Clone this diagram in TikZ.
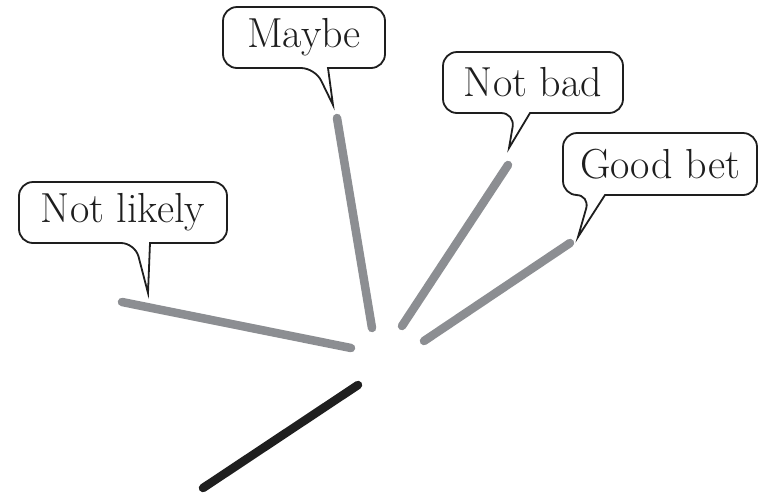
\documentclass[tikz,border=0pt]{standalone}
\usetikzlibrary{calc}
\definecolor{raygray}{RGB}{140,142,146}
\definecolor{inkdark}{RGB}{30,30,30}
\tikzset{
  x=1pt, y=-1pt,
  bubtext/.style={draw=none, inner sep=0pt, text=inkdark, font=\fontsize{42}{46}\selectfont},
  bubline/.style={draw=inkdark, line width=1.8pt, fill=white, line join=miter},
  ray/.style={draw=raygray, line width=8.5pt, line cap=round},
  darkray/.style={draw=black!88, line width=8.5pt, line cap=round}
}
\begin{document}
\begin{tikzpicture}
\useasboundingbox (0,0) rectangle (760,496);
% bubble frames (anchors)
\coordinate (nlTL) at (19,182);  \coordinate (nlBR) at (227,243);
\coordinate (mbTL) at (223,7);   \coordinate (mbBR) at (385,68);
\coordinate (nbTL) at (443,52);  \coordinate (nbBR) at (623,113);
\coordinate (gbTL) at (563,133); \coordinate (gbBR) at (757,195);
% tails
\coordinate (nlTip) at (148,293);
\coordinate (mbTip) at (333,105);
\coordinate (nbTip) at (509,148);
\coordinate (gbTip) at (578,237);
% bubbles
\draw[bubline] (150,243) [rounded corners=14] -- (nlBR) -- (nlBR |- nlTL) -- (nlTL) -- (nlTL |- nlBR) -- (135,243) [sharp corners] -- (nlTip) -- cycle;
\draw[bubline] (328,68) [rounded corners=14] -- (mbBR) -- (mbBR |- mbTL) -- (mbTL) -- (mbTL |- mbBR) -- (315,68) [sharp corners] -- (mbTip) -- cycle;
\draw[bubline] (530,113) [rounded corners=14] -- (nbBR) -- (nbBR |- nbTL) -- (nbTL) -- (nbTL |- nbBR) -- (515,113) [sharp corners] -- (nbTip) -- cycle;
\draw[bubline] (605,195) [rounded corners=14] -- (gbBR) -- (gbBR |- gbTL) -- (gbTL) -- (gbTL |- gbBR) -- (590,195) [sharp corners] -- (gbTip) -- cycle;
% texts
\node[bubtext] (nl) at ($(nlTL)!0.5!(nlBR)$) {Not likely};
\node[bubtext] (mb) at ($(mbTL)!0.5!(mbBR)$) {Maybe};
\node[bubtext] (nb) at ($(nbTL)!0.5!(nbBR)$) {Not bad};
\node[bubtext] (gb) at ($(gbTL)!0.5!(gbBR)$) {Good bet};
% rays
\coordinate (r1a) at (122,302); \coordinate (r1b) at (351,348);
\coordinate (r2a) at (337,118); \coordinate (r2b) at (372,328);
\coordinate (r3a) at (508,165); \coordinate (r3b) at (402,326);
\coordinate (r4a) at (570,243); \coordinate (r4b) at (424,341);
\coordinate (r5a) at (358,385); \coordinate (r5b) at (203,488);
\draw[ray] (r1a) -- (r1b);
\draw[ray] (r2a) -- (r2b);
\draw[ray] (r3a) -- (r3b);
\draw[ray] (r4a) -- (r4b);
\draw[darkray] (r5a) -- (r5b);
\end{tikzpicture}
\end{document}
